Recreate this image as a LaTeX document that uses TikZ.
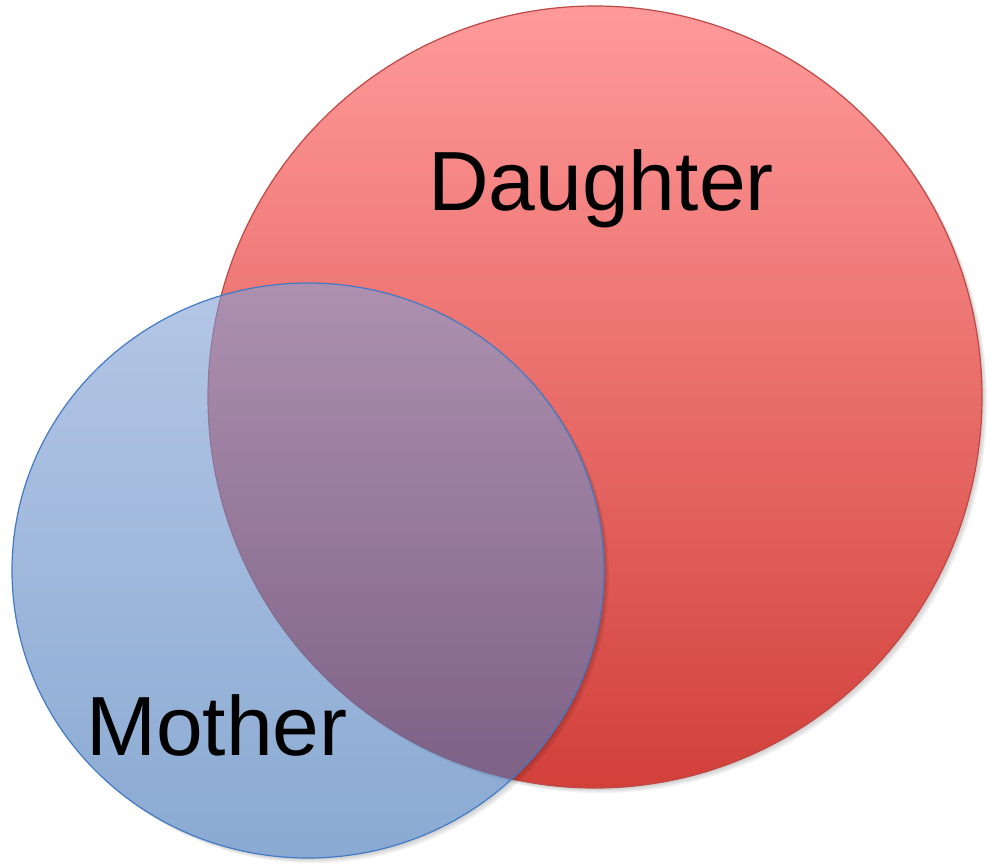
\documentclass[tikz,border=0pt]{standalone}
\usepackage{fontspec}
\setmainfont{Liberation Sans}
\definecolor{redtop}{RGB}{255,154,154}
\definecolor{redbot}{RGB}{210,64,58}
\definecolor{redline}{RGB}{190,72,70}
\definecolor{bluetop}{RGB}{130,160,213}
\definecolor{bluebot}{RGB}{60,113,180}
\definecolor{blueline}{RGB}{66,122,196}
\tikzset{
  shadowfill/.style={fill=black, fill opacity=0.06, draw=none},
  label/.style={font=\fontsize{84}{90}\selectfont, inner sep=0pt, anchor=base west, text=black},
}
\begin{document}
\begin{tikzpicture}[x=1pt,y=-1pt]
\useasboundingbox (0,0) rectangle (990,865);
% shadows
\foreach \d in {2,3.5,5}{
  \path[shadowfill] (595+\d,397+\d) ellipse [x radius=387, y radius=391];
}
% red circle
\shade[top color=redtop, bottom color=redbot] (595,397) ellipse [x radius=387, y radius=391];
\draw[redline, line width=1.2pt] (595,397) ellipse [x radius=387, y radius=391];
% blue shadow, kept outside the blue circle
\begin{scope}[even odd rule]
  \clip (-10,-10) rectangle (1000,875) (308,570.5) ellipse [x radius=296, y radius=287.5];
  \foreach \d in {2,3.5,5}{
    \path[shadowfill] (308+\d,570.5+\d) ellipse [x radius=296, y radius=287.5];
  }
\end{scope}
% blue circle
\shade[top color=bluetop, bottom color=bluebot, fill opacity=0.6] (308,570.5) ellipse [x radius=296, y radius=287.5];
\draw[blueline, line width=1.2pt] (308,570.5) ellipse [x radius=296, y radius=287.5];
% labels
\node[label] (daughter) at (428,210) {Daughter};
\node[label] (mother) at (86,755) {Mother};
\end{tikzpicture}
\end{document}
